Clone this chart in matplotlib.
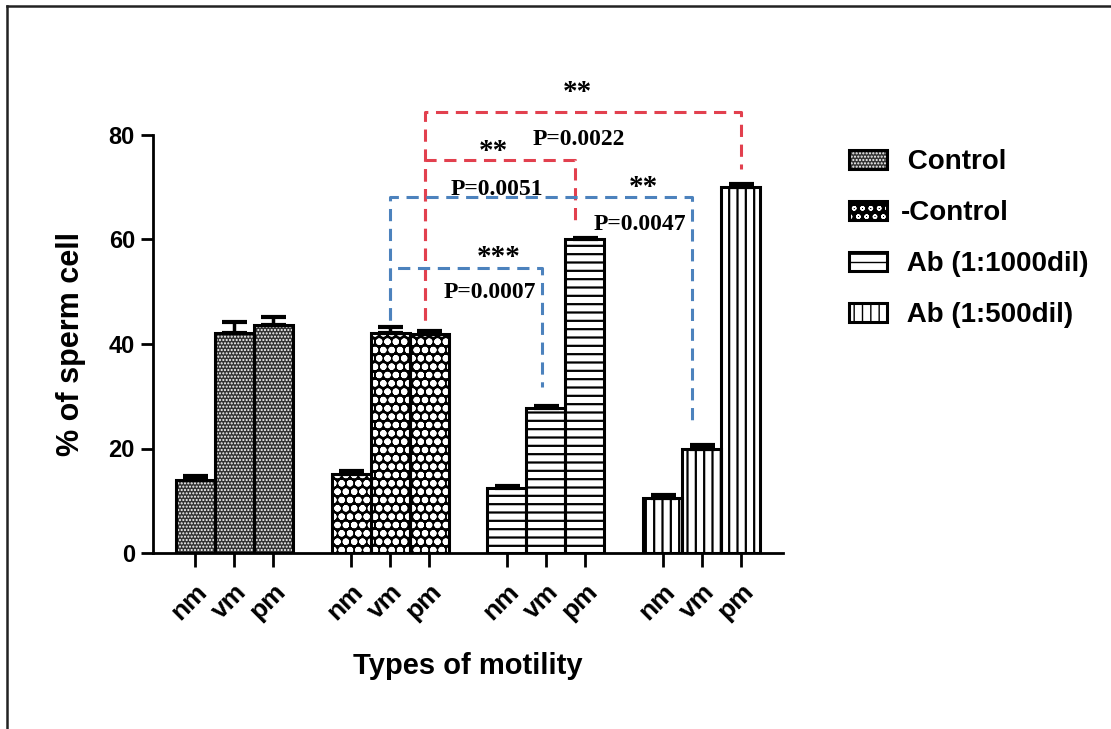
import matplotlib
matplotlib.use("Agg")
import matplotlib.pyplot as plt
import numpy as np
from matplotlib.patches import Patch
from matplotlib.lines import Line2D

# ---- data ----
motility = ['nm', 'vm', 'pm']
groups = ['Control', '-Control', 'Ab (1:1000dil)', 'Ab (1:500dil)']
control = [14.0, 42.1, 43.6]
neg_control = [15.2, 42.1, 42.0]
ab_1000 = [12.5, 27.7, 60.0]
ab_500 = [10.6, 20.0, 70.0]
err_control = [0.8, 2.1, 1.6]
err_neg_control = [0.5, 1.2, 0.4]
err_ab_1000 = [0.4, 0.5, 0.3]
err_ab_500 = [0.5, 0.7, 0.6]
series = [control, neg_control, ab_1000, ab_500]
errors = [err_control, err_neg_control, err_ab_1000, err_ab_500]

# comparisons: (group_a, motility_a, group_b, motility_b, stars, p-text)
comparisons = [
    (1, 2, 3, 2, '**', 'P=0.0022'),
    (1, 2, 2, 2, '**', 'P=0.0051'),
    (1, 1, 3, 1, '**', 'P=0.0047'),
    (1, 1, 2, 1, '***', 'P=0.0007'),
]

plt.rcParams['font.family'] = ['Liberation Sans', 'DejaVu Sans']

fig = plt.figure(figsize=(11.11, 7.29), dpi=100)
ax = fig.add_axes([153/1111, 1-553/729, (783-153)/1111, (553-135)/729])

styles = [
    dict(face='#333333', hatch='.....', hcol='white', hlw=1.0),
    dict(face='black', hatch='oo', hcol='white', hlw=2.2),
    dict(face='white', hatch='--', hcol='black', hlw=1.6),
    dict(face='white', hatch='||', hcol='black', hlw=1.6),
]

positions = []
legend_handles = []
for gi, (vals, errs, st) in enumerate(zip(series, errors, styles)):
    x = np.arange(len(vals)) + gi * 4
    positions.append(x)
    with plt.rc_context({'hatch.linewidth': st['hlw']}):
        ax.bar(x, vals, width=1.0, color=st['face'], edgecolor=st['hcol'],
               hatch=st['hatch'], linewidth=0, zorder=2)
        h1 = Patch(facecolor=st['face'], edgecolor=st['hcol'], hatch=st['hatch'], linewidth=0)
    ax.bar(x, vals, width=1.0, fill=False, edgecolor='black', linewidth=2.2, zorder=3)
    h2 = Patch(fill=False, edgecolor='black', linewidth=2.2)
    legend_handles.append((h1, h2))
    ax.errorbar(x, vals, yerr=[np.zeros(len(vals)), errs], fmt='none', ecolor='black',
                elinewidth=2.5, capsize=9, capthick=3, zorder=4)

ax.set_xlim(-1.08, 15.08)
ax.set_ylim(0, 80)
ax.set_yticks([0, 20, 40, 60, 80])
allx = np.concatenate(positions)
ax.set_xticks(allx)
ax.set_xticklabels(motility * len(groups), rotation=45, ha='right',
                   rotation_mode='anchor', fontsize=19, fontweight='bold')
for lab in ax.get_yticklabels():
    lab.set_fontsize(17)
    lab.set_fontweight('bold')
ax.tick_params(axis='x', length=10, width=2, pad=9)
ax.tick_params(axis='y', length=9, width=2, pad=4)
for s in ['top', 'right']:
    ax.spines[s].set_visible(False)
for s in ['left', 'bottom']:
    ax.spines[s].set_linewidth(2)

ax.set_ylabel('% of sperm cell', fontsize=22, fontweight='bold', labelpad=16)
ax.set_xlabel('Types of motility', fontsize=21, fontweight='bold', labelpad=20)

# significance brackets
red = '#e2404e'
blue = '#4c82bd'
brackets = [
    # (x_left, y_left_bottom, x_right, y_right_bottom, y_top, color, star_xy, p_xy)
    (positions[1][2] - 0.1, 44.6, positions[3][2], 73.5, 84.4, red, (9.8, 85.6), (9.85, 79.2)),
    (positions[1][2] - 0.1, 44.6, positions[2][2] - 0.25, 63.8, 75.2, red, (7.65, 74.3), (7.75, 69.6)),
    (positions[1][1], 44.6, positions[3][1] - 0.25, 24.8, 68.1, blue, (11.5, 67.4), (11.4, 62.9)),
    (positions[1][1], 44.6, positions[2][1] - 0.1, 31.7, 54.6, blue, (7.8, 54.0), (7.55, 49.8)),
]
serif = ['Liberation Serif', 'DejaVu Serif']
for (xl, yl, xr, yr, yt, col, sxy, pxy), comp in zip(brackets, comparisons):
    ax.plot([xl, xl, xr, xr], [yl, yt, yt, yr], color=col, lw=2.2,
            linestyle=(0, (4, 2.5)), clip_on=False, zorder=1)
    ax.text(sxy[0], sxy[1], comp[4], ha='center', va='bottom', fontsize=21,
            fontweight='bold', family=serif)
    ax.text(pxy[0], pxy[1], comp[5], ha='center', va='center', fontsize=17,
            fontweight='bold', family=serif)

labels = [g if g.startswith('-') else ' ' + g for g in groups]
fig.legend(legend_handles, labels, loc='upper left', bbox_to_anchor=(824/1111, 1-124/729),
           frameon=False, handlelength=1.35, handleheight=0.65, handletextpad=0.5,
           labelspacing=0.9, prop={'size': 20, 'weight': 'bold'})

# figure border (top and left)
fig.add_artist(Line2D([7/1111, 1], [1-6/729, 1-6/729], color='#222222', lw=1.8,
                      transform=fig.transFigure))
fig.add_artist(Line2D([7/1111, 7/1111], [0, 1-6/729], color='#222222', lw=1.8,
                      transform=fig.transFigure))

fig.savefig('out.png', dpi=100)
